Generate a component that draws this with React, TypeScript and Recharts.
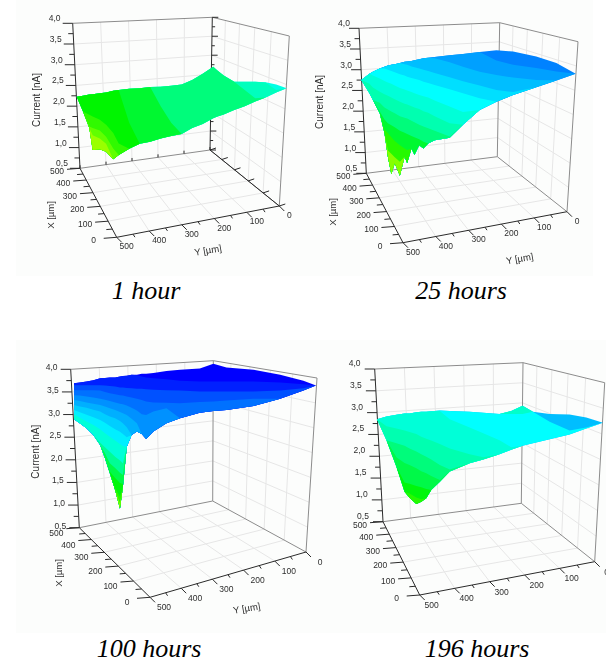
import { Area, ComposedChart, Line, Scatter, XAxis, YAxis } from "recharts"

// Surfaces are stored as seen on the page: station = apparent Y position in um,
// values = apparent height in nA at that station. A contour paints everything
// below it in the next colour, clamped to the surface outline.
const currentTicks = [0.5, 1, 1.5, 2, 2.5, 3, 3.5, 4]
const currentMinorTicks = [0.75, 1.25, 1.75, 2.25, 2.75, 3.25, 3.75]
const positionTicks = [0, 100, 200, 300, 400, 500]
const positionMinorTicks = [50, 150, 250, 350, 450]

const hour1Stations = [500, 485, 470, 462, 445, 430, 413, 400, 375, 350, 325, 300, 275, 250, 225, 200, 175, 165, 150, 125, 100, 75, 50, 25, 0]
const hour1Top = [2.23, 2.25, 2.28, 2.29, 2.31, 2.33, 2.37, 2.39, 2.42, 2.43, 2.46, 2.47, 2.49, 2.52, 2.63, 2.78, 2.95, 2.86, 2.74, 2.59, 2.59, 2.59, 2.58, 2.52, 2.43]
const hour1Bottom = [2.23, 1.87, 1.47, 0.94, 0.96, 0.9, 0.72, 0.82, 0.97, 1.09, 1.14, 1.22, 1.28, 1.33, 1.47, 1.57, 1.71, 1.75, 1.8, 1.91, 2.0, 2.11, 2.21, 2.33, 2.43]
const hour1Levels = [2.9, 2.75, 2.5, 2.2, 2.0, 1.75, 1.5, 1.2]
const hour1Contours = [
  [5, 5, 5, 5, 5, 5, 5, 5, 5, 5, 5, 5, 5, 5, 5, 5, 5, 5, 5, 5, 5, 5, 2.57, 2.39, 0],
  [5, 5, 5, 5, 5, 5, 5, 5, 5, 5, 5, 5, 5, 5, 5, 5, 5, 5, 5, 2.59, 2.39, 2.19, 0, 0, 0],
  [5, 5, 5, 5, 5, 5, 5, 5, 5, 5, 5, 2.0, 1.6, 0, 0, 0, 0, 0, 0, 0, 0, 0, 0, 0, 0],
  [5, 5, 5, 5, 5, 5, 5, 5, 1.6, 0, 0, 0, 0, 0, 0, 0, 0, 0, 0, 0, 0, 0, 0, 0, 0],
  [0, 1.87, 1.79, 1.75, 1.67, 1.55, 1.35, 1.1, 0, 0, 0, 0, 0, 0, 0, 0, 0, 0, 0, 0, 0, 0, 0, 0, 0],
  [0, 0, 1.51, 1.47, 1.41, 1.26, 0.98, 0, 0, 0, 0, 0, 0, 0, 0, 0, 0, 0, 0, 0, 0, 0, 0, 0, 0],
  [0, 0, 0, 1.3, 1.22, 1.09, 0, 0, 0, 0, 0, 0, 0, 0, 0, 0, 0, 0, 0, 0, 0, 0, 0, 0, 0],
]

const hour25Stations = [500, 481, 473, 457, 446, 438, 430, 422, 410, 399, 393, 383, 376, 365, 355, 344, 329, 294, 263, 224, 185, 146, 92, 45, 0]
const hour25Top = [2.75, 2.9, 2.95, 3.03, 3.07, 3.1, 3.12, 3.13, 3.16, 3.19, 3.2, 3.21, 3.23, 3.25, 3.28, 3.29, 3.31, 3.35, 3.38, 3.43, 3.47, 3.44, 3.32, 3.16, 2.9]
const hour25Bottom = [2.75, 2.43, 2.27, 1.95, 1.47, 0.9, 0.48, 0.74, 0.44, 0.9, 0.74, 1.1, 0.94, 1.18, 1.1, 1.22, 1.3, 1.36, 1.67, 2.03, 2.23, 2.39, 2.58, 2.74, 2.9]
const hour25Levels = [3.4, 3.3, 3.2, 3.1, 3.0, 2.85, 2.7, 2.5, 2.2, 1.8, 1.3]
const hour25Contours = [
  [5, 5, 5, 5, 5, 5, 5, 5, 5, 5, 5, 5, 5, 5, 5, 5, 5, 5, 5, 5, 3.22, 3.12, 3.04, 2.96, 2.9],
  [5, 5, 5, 5, 5, 5, 5, 5, 5, 5, 5, 5, 5, 5, 5, 5, 3.28, 3.18, 3.07, 2.95, 2.87, 2.81, 2.75, 0, 0],
  [5, 5, 5, 5, 5, 5, 5, 5, 3.16, 3.13, 3.12, 3.08, 3.06, 3.03, 3.0, 2.97, 2.92, 2.82, 2.72, 2.62, 2.51, 2.46, 0, 0, 0],
  [5, 5, 5, 5, 3.03, 3.0, 2.97, 2.94, 2.89, 2.86, 2.83, 2.8, 2.78, 2.75, 2.71, 2.68, 2.63, 2.53, 2.43, 2.31, 0, 0, 0, 0, 0],
  [5, 2.9, 2.86, 2.79, 2.73, 2.69, 2.66, 2.62, 2.56, 2.52, 2.5, 2.46, 2.43, 2.39, 2.36, 2.33, 2.26, 2.11, 1.98, 0, 0, 0, 0, 0, 0],
  [5, 2.66, 2.57, 2.47, 2.41, 2.37, 2.33, 2.29, 2.23, 2.18, 2.16, 2.12, 2.09, 2.05, 2.0, 1.96, 1.88, 1.71, 0, 0, 0, 0, 0, 0, 0],
  [0, 2.43, 2.27, 2.2, 2.09, 2.04, 1.99, 1.95, 1.88, 1.84, 1.82, 1.77, 1.73, 1.67, 1.63, 1.59, 1.53, 1.39, 0, 0, 0, 0, 0, 0, 0],
  [0, 0, 0, 1.99, 1.8, 1.71, 1.66, 1.61, 1.53, 1.48, 1.45, 1.4, 1.37, 1.32, 1.26, 1.22, 0, 0, 0, 0, 0, 0, 0, 0, 0],
  [0, 0, 0, 0, 1.56, 1.47, 1.37, 1.28, 1.18, 1.1, 1.06, 0, 0, 0, 0, 0, 0, 0, 0, 0, 0, 0, 0, 0, 0],
  [0, 0, 0, 0, 0, 1.05, 0.97, 0.89, 0.78, 0, 0, 0, 0, 0, 0, 0, 0, 0, 0, 0, 0, 0, 0, 0, 0],
]

const hour100Stations = [500, 488, 474, 460, 446, 436, 426, 415, 405, 399, 391, 381, 370, 360, 351, 336, 309, 281, 240, 212, 185, 129, 74, 26, 0]
const hour100Top = [3.69, 3.71, 3.73, 3.76, 3.8, 3.81, 3.82, 3.82, 3.84, 3.85, 3.86, 3.88, 3.88, 3.9, 3.9, 3.92, 3.96, 3.99, 4.02, 4.12, 4.04, 3.99, 3.88, 3.75, 3.64]
const hour100Bottom = [2.9, 2.81, 2.7, 2.55, 2.33, 2.04, 1.71, 1.34, 0.93, 1.41, 2.29, 2.55, 2.63, 2.57, 2.46, 2.63, 2.81, 2.92, 3.04, 3.08, 3.1, 3.19, 3.35, 3.53, 3.64]
const hour100Levels = [3.85, 3.7, 3.55, 3.45, 3.35, 3.25, 3.15, 3.05, 2.85, 2.6, 2.3, 2.05, 1.8, 1.3]
const hour100Contours = [
  [5, 5, 5, 5, 5, 5, 5, 5, 5, 5, 5, 5, 3.87, 3.84, 3.82, 3.8, 3.78, 3.75, 3.73, 3.73, 3.73, 3.73, 3.71, 3.67, 0],
  [3.65, 3.65, 3.65, 3.65, 3.65, 3.64, 3.63, 3.62, 3.6, 3.6, 3.59, 3.58, 3.57, 3.57, 3.56, 3.55, 3.54, 3.53, 3.51, 3.51, 3.51, 3.51, 3.53, 3.58, 0],
  [3.54, 3.54, 3.54, 3.54, 3.53, 3.5, 3.47, 3.45, 3.43, 3.42, 3.4, 3.38, 3.35, 3.32, 3.29, 3.27, 3.26, 3.25, 3.28, 3.29, 3.31, 3.35, 0, 0, 0],
  [3.43, 3.42, 3.4, 3.38, 3.35, 3.33, 3.3, 3.27, 3.24, 3.23, 3.2, 3.15, 3.09, 3.01, 2.99, 3.07, 3.14, 0, 0, 0, 0, 0, 0, 0, 0],
  [3.32, 3.3, 3.27, 3.24, 3.21, 3.18, 3.14, 3.1, 3.06, 3.03, 2.99, 2.91, 2.81, 0, 0, 0, 0, 0, 0, 0, 0, 0, 0, 0, 0],
  [3.21, 3.18, 3.15, 3.11, 3.07, 3.01, 2.96, 2.92, 2.86, 2.81, 2.72, 0, 0, 0, 0, 0, 0, 0, 0, 0, 0, 0, 0, 0, 0],
  [3.1, 3.05, 3.0, 2.94, 2.88, 2.82, 2.75, 2.68, 2.62, 2.57, 2.5, 0, 0, 0, 0, 0, 0, 0, 0, 0, 0, 0, 0, 0, 0],
  [3.01, 2.93, 2.85, 2.77, 2.68, 2.59, 2.51, 2.43, 2.35, 2.31, 0, 0, 0, 0, 0, 0, 0, 0, 0, 0, 0, 0, 0, 0, 0],
  [0, 0, 0, 2.55, 2.38, 2.28, 2.18, 2.07, 1.99, 1.93, 0, 0, 0, 0, 0, 0, 0, 0, 0, 0, 0, 0, 0, 0, 0],
  [0, 0, 0, 0, 0, 2.15, 1.93, 1.82, 1.72, 1.67, 0, 0, 0, 0, 0, 0, 0, 0, 0, 0, 0, 0, 0, 0, 0],
  [0, 0, 0, 0, 0, 0, 1.74, 1.6, 1.49, 1.47, 0, 0, 0, 0, 0, 0, 0, 0, 0, 0, 0, 0, 0, 0, 0],
  [0, 0, 0, 0, 0, 0, 0, 1.38, 1.19, 0, 0, 0, 0, 0, 0, 0, 0, 0, 0, 0, 0, 0, 0, 0, 0],
  [0, 0, 0, 0, 0, 0, 0, 0, 1.04, 0, 0, 0, 0, 0, 0, 0, 0, 0, 0, 0, 0, 0, 0, 0, 0],
]

const hour196Stations = [500, 479, 457, 439, 428, 413, 402, 391, 380, 361, 339, 295, 265, 229, 203, 178, 155, 118, 74, 37, 0]
const hour196Top = [2.85, 2.91, 2.95, 2.98, 2.98, 3.01, 3.02, 3.02, 3.03, 3.05, 3.04, 3.02, 3.0, 2.97, 3.04, 3.16, 3.02, 2.97, 2.96, 2.89, 2.77]
const hour196Bottom = [2.85, 2.37, 1.76, 1.19, 1.05, 0.91, 0.96, 1.04, 1.23, 1.42, 1.65, 1.84, 1.93, 2.05, 2.15, 2.24, 2.3, 2.39, 2.5, 2.64, 2.77]
const hour196Levels = [3.2, 3.0, 2.85, 2.7, 2.5, 2.3, 2.05, 1.8]
const hour196Contours = [
  [5, 5, 5, 5, 5, 5, 5, 5, 5, 5, 5, 5, 5, 5, 5, 5, 5, 2.79, 2.59, 2.66, 0],
  [5, 5, 5, 5, 5, 5, 5, 5, 5, 3.04, 2.85, 2.66, 2.53, 2.37, 2.21, 0, 0, 0, 0, 0, 0],
  [0, 2.69, 2.64, 2.59, 2.56, 2.51, 2.45, 2.4, 2.36, 2.28, 2.18, 2.05, 1.98, 0, 0, 0, 0, 0, 0, 0, 0],
  [0, 0, 2.3, 2.24, 2.18, 2.11, 2.05, 1.99, 1.93, 1.8, 1.7, 0, 0, 0, 0, 0, 0, 0, 0, 0, 0],
  [0, 0, 1.98, 1.85, 1.8, 1.73, 1.66, 1.61, 1.55, 1.46, 0, 0, 0, 0, 0, 0, 0, 0, 0, 0, 0],
  [0, 0, 0, 1.4, 1.37, 1.32, 1.29, 1.25, 0, 0, 0, 0, 0, 0, 0, 0, 0, 0, 0, 0, 0],
  [0, 0, 0, 0, 1.15, 1.06, 1.02, 0, 0, 0, 0, 0, 0, 0, 0, 0, 0, 0, 0, 0, 0],
]
const hour196SpikeStations = [229, 203, 178, 155]
const hour196SpikeLow = [2.97, 2.97, 2.97, 3.02]
const hour196SpikeHigh = [2.97, 3.04, 3.16, 3.02]

type Pt = [number, number]
type Panel = {
  box: [number, number, number, number]
  back: [number, number, number, number]
  topLeft: Pt
  backTop: Pt
  rightTop: Pt
  floorLeft: Pt
  floorBack: Pt
  floorRight: Pt
  floorFront: Pt
  currentLabelShift: Pt
  xLabelShift: Pt
  yLabelShift: Pt
  rearTicks?: boolean
  titles?: { current: Pt; x: Pt; y: Pt }
  anchors: { left: number; right: number; y4: number; perNa: number }
  stations: number[]
  top: number[]
  bottom: number[]
  levels: number[]
  contours: number[][]
  spike?: { stations: number[]; low: number[]; high: number[]; level: number }
  caption: string
  captionAt: Pt
}

const panels: Panel[] = [
  {
    box: [16, 0, 287, 276],
    back: [16, 0, 287, 276],
    topLeft: [72.7, 23.3],
    backTop: [212.3, 17.3],
    rightTop: [289.3, 36],
    floorLeft: [80, 168.3],
    floorBack: [210, 150],
    floorRight: [279.3, 206],
    floorFront: [116.7, 237.3],
    currentLabelShift: [-18, -5],
    xLabelShift: [-23, 3],
    yLabelShift: [10, 9],
    rearTicks: true,
    titles: { current: [36.7, 100], x: [50, 215], y: [208, 250] },
    anchors: { left: 76.7, right: 286.7, y4: 23.3, perNa: 41.43 },
    stations: hour1Stations,
    top: hour1Top,
    bottom: hour1Bottom,
    levels: hour1Levels,
    contours: hour1Contours,
    caption: "1 hour",
    captionAt: [146, 291],
  },
  {
    box: [303, 0, 297, 276],
    back: [303, 0, 290, 276],
    topLeft: [359, 28.3],
    backTop: [499.7, 22.7],
    rightTop: [578, 41.7],
    floorLeft: [366.3, 173.3],
    floorBack: [497.3, 156.7],
    floorRight: [567, 211.7],
    floorFront: [403, 242.7],
    currentLabelShift: [-15, -5],
    xLabelShift: [-23, 3],
    yLabelShift: [10, 9],
    titles: { current: [319.7, 102], x: [332.3, 212], y: [519.7, 258.3] },
    anchors: { left: 361.3, right: 575.7, y4: 28.3, perNa: 41.43 },
    stations: hour25Stations,
    top: hour25Top,
    bottom: hour25Bottom,
    levels: hour25Levels,
    contours: hour25Contours,
    caption: "25 hours",
    captionAt: [461, 291],
  },
  {
    box: [335, 340, 271, 293],
    back: [303, 340, 303, 293],
    topLeft: [374.7, 369],
    backTop: [523, 362.7],
    rightTop: [604.7, 382.7],
    floorLeft: [383, 521.7],
    floorBack: [521.3, 503.3],
    floorRight: [594.7, 561.7],
    floorFront: [419.7, 595],
    currentLabelShift: [-20, -6],
    xLabelShift: [-23, 3],
    yLabelShift: [12, 10],
    anchors: { left: 377, right: 603, y4: 369, perNa: 43.67 },
    stations: hour196Stations,
    top: hour196Top,
    bottom: hour196Bottom,
    levels: hour196Levels,
    contours: hour196Contours,
    spike: { stations: hour196SpikeStations, low: hour196SpikeLow, high: hour196SpikeHigh, level: 2.8 },
    caption: "196 hours",
    captionAt: [477, 649],
  },
  {
    box: [16, 340, 319, 293],
    back: [16, 340, 287, 293],
    topLeft: [70.7, 369.3],
    backTop: [213.3, 360.7],
    rightTop: [317, 378],
    floorLeft: [79.3, 527.7],
    floorBack: [212.7, 501],
    floorRight: [306, 552],
    floorFront: [150, 597.3],
    currentLabelShift: [-19, -2],
    xLabelShift: [-23, 5],
    yLabelShift: [14, 10],
    titles: { current: [35.7, 451.7], x: [58, 573], y: [246.7, 608] },
    anchors: { left: 74, right: 316, y4: 369.3, perNa: 45.33 },
    stations: hour100Stations,
    top: hour100Top,
    bottom: hour100Bottom,
    levels: hour100Levels,
    contours: hour100Contours,
    caption: "100 hours",
    captionAt: [149, 649],
  },
]

// colour legend of the original software: current level -> rgb
const colourStops: [number, number, number, number][] = [
  [1.0, 192, 255, 0],
  [1.5, 96, 255, 0],
  [2.0, 0, 245, 0],
  [2.4, 0, 250, 96],
  [2.7, 0, 255, 176],
  [3.0, 0, 255, 255],
  [3.2, 0, 190, 255],
  [3.4, 0, 130, 255],
  [3.6, 0, 64, 255],
  [3.8, 0, 0, 255],
]

function levelColour(level: number) {
  for (let i = 1; i < colourStops.length; i++) {
    const a = colourStops[i - 1]
    const b = colourStops[i]
    if (level <= b[0]) {
      const t = Math.max(0, (level - a[0]) / (b[0] - a[0]))
      const c = [1, 2, 3].map((k) => Math.round(a[k] + (b[k] - a[k]) * t))
      return `rgb(${c[0]},${c[1]},${c[2]})`
    }
  }
  return "rgb(0,0,255)"
}

const mix = (a: Pt, b: Pt, t: number): Pt => [a[0] + (b[0] - a[0]) * t, a[1] + (b[1] - a[1]) * t]
// X runs towards the viewer, so its steps grow a little on the page
const depth = (t: number) => t / (t + 1.22 * (1 - t))

type Seg = { x: number; y: number | null }
function pushSeg(list: Seg[], a: Pt, b: Pt) {
  list.push({ x: a[0], y: a[1] }, { x: b[0], y: b[1] }, { x: b[0], y: null })
}
const offset = (p: Pt, dx: number, dy: number): Pt => [p[0] + dx, p[1] + dy]

function buildFrame(p: Panel) {
  const grid: Seg[] = []
  const edges: Seg[] = []
  const axes: Seg[] = []
  const labels: { x: number; y: number; text: string; rotate?: number; size?: number }[] = []

  const zT = (v: number) => (v - 0.5) / 3.5
  const yT = (v: number) => (500 - v) / 500
  const xT = (v: number) => depth((500 - v) / 500)

  // walls and floor
  currentTicks.slice(1, -1).forEach((v) => {
    const t = zT(v)
    const back = mix(p.floorBack, p.backTop, t)
    pushSeg(grid, mix(p.floorLeft, p.topLeft, t), back)
    pushSeg(grid, back, mix(p.floorRight, p.rightTop, t))
  })
  positionTicks.slice(1, -1).forEach((v) => {
    const ty = yT(v)
    const rear = mix(p.floorLeft, p.floorBack, ty)
    pushSeg(grid, mix(p.topLeft, p.backTop, ty), rear)
    pushSeg(grid, rear, mix(p.floorFront, p.floorRight, ty))
    const tx = xT(v)
    const side = mix(p.floorBack, p.floorRight, tx)
    pushSeg(grid, mix(p.backTop, p.rightTop, tx), side)
    pushSeg(grid, side, mix(p.floorLeft, p.floorFront, tx))
  })

  pushSeg(edges, p.topLeft, p.backTop)
  pushSeg(edges, p.backTop, p.rightTop)
  pushSeg(edges, p.rightTop, p.floorRight)
  pushSeg(edges, p.floorLeft, p.floorBack)
  pushSeg(edges, p.floorBack, p.floorRight)
  pushSeg(p.rearTicks ? axes : edges, p.backTop, p.floorBack)
  if (p.rearTicks) pushSeg(axes, p.floorBack, p.floorRight)

  pushSeg(axes, p.floorLeft, p.topLeft)
  pushSeg(axes, p.floorLeft, p.floorFront)
  pushSeg(axes, p.floorFront, p.floorRight)

  currentTicks.forEach((v) => {
    const at = mix(p.floorLeft, p.topLeft, zT(v))
    pushSeg(axes, at, offset(at, -10, 0))
    const lab = offset(at, p.currentLabelShift[0], p.currentLabelShift[1])
    labels.push({ x: lab[0], y: lab[1], text: v.toFixed(1).replace(".", ",") })
    if (p.rearTicks) {
      const b = mix(p.floorBack, p.backTop, zT(v))
      pushSeg(axes, b, offset(b, 6, 0))
    }
  })
  currentMinorTicks.forEach((v) => {
    const at = mix(p.floorLeft, p.topLeft, zT(v))
    pushSeg(axes, at, offset(at, -5, 0))
    if (p.rearTicks) {
      const b = mix(p.floorBack, p.backTop, zT(v))
      pushSeg(axes, b, offset(b, 3, 0))
    }
  })
  positionTicks.forEach((v) => {
    const ax = mix(p.floorLeft, p.floorFront, xT(v))
    pushSeg(axes, ax, offset(ax, -13, 1))
    const lx = offset(ax, p.xLabelShift[0], p.xLabelShift[1])
    labels.push({ x: lx[0], y: lx[1], text: String(v) })
    const ay = mix(p.floorFront, p.floorRight, yT(v))
    pushSeg(axes, ay, offset(ay, 5, 5))
    const ly = offset(ay, p.yLabelShift[0], p.yLabelShift[1])
    labels.push({ x: ly[0], y: ly[1], text: String(v) })
    if (p.rearTicks) {
      const r = mix(p.floorLeft, p.floorBack, yT(v))
      pushSeg(axes, r, offset(r, 0, -3))
      const s = mix(p.floorBack, p.floorRight, xT(v))
      pushSeg(axes, s, offset(s, 6, -2))
    }
  })
  positionMinorTicks.forEach((v) => {
    const ax = mix(p.floorLeft, p.floorFront, xT(v))
    pushSeg(axes, ax, offset(ax, -6, 0.5))
    const ay = mix(p.floorFront, p.floorRight, yT(v))
    pushSeg(axes, ay, offset(ay, 2, 3))
  })

  if (p.titles) {
    const t = p.titles
    labels.push({ x: t.current[0], y: t.current[1], text: "Current [nA]", rotate: -90, size: 10 })
    labels.push({ x: t.x[0], y: t.x[1], text: "X [\u00b5m]", rotate: -90, size: 9.5 })
    labels.push({ x: t.y[0], y: t.y[1], text: "Y [\u00b5m]", rotate: -10, size: 9.5 })
  }
  return { grid, edges, axes, labels }
}

function AxisText(props: any) {
  const d = props.payload ?? props
  return (
    <text
      x={props.cx}
      y={props.cy}
      textAnchor="middle"
      dominantBaseline="central"
      fontFamily="'Liberation Sans', Arial, sans-serif"
      fontSize={d.size ?? 8.5}
      fill="#2e2e2e"
      transform={d.rotate ? `rotate(${d.rotate} ${props.cx} ${props.cy})` : undefined}
    >
      {d.text}
    </text>
  )
}

const noMargin = { top: 0, right: 0, bottom: 0, left: 0 }
const layer = { position: "absolute", left: 0, top: 0 } as const

function Surface3D({ p }: { p: Panel }) {
  const [left, top, width, height] = p.box
  const frame = buildFrame(p)
  const a = p.anchors
  // hidden axes whose scales line up with the anchors of this panel
  const umAt = (px: number) => (500 * (a.right - px)) / (a.right - a.left)
  const naAt = (px: number) => 4 - (px - a.y4) / a.perNa
  const outline = p.stations.map((h, i) => ({ h, band: [p.bottom[i], p.top[i]] }))
  const bands = p.contours.map((c) =>
    p.stations.map((h, i) => ({
      h,
      band: [p.bottom[i], Math.max(p.bottom[i], Math.min(p.top[i], c[i]))],
    })),
  )

  return (
    // the source is a low resolution raster, so everything is softened slightly
    <div style={{ position: "absolute", left, top, width, height, filter: "blur(0.4px)" }}>
      <div style={layer}>
        <ComposedChart width={width} height={height} margin={noMargin}>
          <XAxis hide type="number" dataKey="x" domain={[left, left + width]} allowDataOverflow />
          <YAxis hide type="number" dataKey="y" domain={[top, top + height]} reversed allowDataOverflow />
          <Line data={frame.grid} dataKey="y" stroke="#e6e6e6" strokeWidth={1} dot={false} activeDot={false} isAnimationActive={false} />
          <Line data={frame.edges} dataKey="y" stroke="#8c8c8c" strokeWidth={1} dot={false} activeDot={false} isAnimationActive={false} />
          <Line data={frame.axes} dataKey="y" stroke="#2a2a2a" strokeWidth={1} dot={false} activeDot={false} isAnimationActive={false} />
          <Scatter data={frame.labels} shape={<AxisText />} isAnimationActive={false} />
        </ComposedChart>
      </div>
      <div style={layer}>
        <ComposedChart width={width} height={height} margin={noMargin}>
          <XAxis hide type="number" dataKey="h" domain={[umAt(left + width), umAt(left)]} reversed allowDataOverflow />
          <YAxis hide type="number" domain={[naAt(top + height), naAt(top)]} allowDataOverflow />
          <Area data={outline} dataKey="band" type="linear" fill={levelColour(p.levels[0])} fillOpacity={1} stroke="none" dot={false} activeDot={false} isAnimationActive={false} />
          {bands.map((band, i) => (
            <Area key={i} data={band} dataKey="band" type="linear" fill={levelColour(p.levels[i + 1])} fillOpacity={1} stroke="none" dot={false} activeDot={false} isAnimationActive={false} />
          ))}
          {p.spike && (
            <Area
              data={p.spike.stations.map((h, i) => ({ h, band: [p.spike!.low[i], p.spike!.high[i]] }))}
              dataKey="band"
              type="linear"
              fill={levelColour(p.spike.level)}
              fillOpacity={1}
              stroke="none"
              dot={false}
              activeDot={false}
              isAnimationActive={false}
            />
          )}
        </ComposedChart>
      </div>
    </div>
  )
}

export default function App() {
  return (
    <div style={{ position: "absolute", left: 0, top: 0, width: 606, height: 662, overflow: "hidden", background: "#fff" }}>
      {panels.map((p) => (
        <div
          key={p.caption + "-back"}
          style={{ position: "absolute", left: p.back[0], top: p.back[1], width: p.back[2], height: p.back[3], background: "#fcfdfc" }}
        />
      ))}
      {panels.map((p) => (
        <Surface3D key={p.caption} p={p} />
      ))}
      {panels.map((p) => (
        <div
          key={p.caption + "-caption"}
          style={{
            position: "absolute",
            left: p.captionAt[0] - 100,
            top: p.captionAt[1] - 16,
            width: 200,
            height: 32,
            lineHeight: "32px",
            textAlign: "center",
            fontFamily: "'Liberation Serif', serif",
            fontStyle: "italic",
            fontSize: 26,
            color: "#000",
          }}
        >
          {p.caption}
        </div>
      ))}
    </div>
  )
}
